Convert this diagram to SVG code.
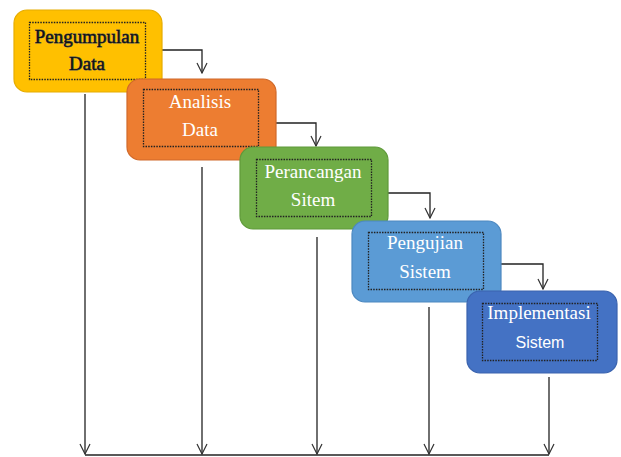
<svg xmlns="http://www.w3.org/2000/svg" width="621" height="457" viewBox="0 0 621 457">
<defs>
<marker id="arrd" markerWidth="12" markerHeight="12" viewBox="0 0 12 12" refX="11" refY="6" orient="auto" markerUnits="userSpaceOnUse">
<path d="M1,1 L11,6 L1,11" fill="none" stroke="#333" stroke-width="1.2"/>
</marker>
</defs>
<style>
.box{stroke-width:1.2}
.inner{fill:none;stroke:#222;stroke-width:1.3;stroke-dasharray:1.5 1.2}
.conn{fill:none;stroke:#222;stroke-width:1.3}
.t{font-family:"Liberation Serif","Times New Roman",serif;font-size:19px;text-anchor:middle;fill:#fff}
.ts{font-family:"Liberation Sans",Arial,sans-serif;font-size:16px;text-anchor:middle;fill:#fff}
.dark{fill:#111;stroke:#555;stroke-width:0.9;paint-order:stroke}
</style>
<rect width="621" height="457" fill="#fff"/>
<g id="connectors">
<path class="conn" d="M162,50 H202 V73" marker-end="url(#arrd)"/>
<path class="conn" d="M276,123 H316 V146" marker-end="url(#arrd)"/>
<path class="conn" d="M388,193 H430 V218" marker-end="url(#arrd)"/>
<path class="conn" d="M501,264 H543 V289" marker-end="url(#arrd)"/>
<path class="conn" d="M85,94 V454" marker-end="url(#arrd)"/>
<path class="conn" d="M202,167 V454" marker-end="url(#arrd)"/>
<path class="conn" d="M317,237 V454" marker-end="url(#arrd)"/>
<path class="conn" d="M429,307 V454" marker-end="url(#arrd)"/>
<path class="conn" d="M549,377 V454" marker-end="url(#arrd)"/>
<path class="conn" d="M85,455 H549"/>
</g>
<g id="n1">
<rect class="box" x="14" y="10" width="148" height="82" rx="13" fill="#FFC000" stroke="#E6AC00"/>
<rect class="inner" x="29.5" y="22.5" width="116" height="57"/>
<text class="t dark" x="87" y="43">Pengumpulan</text>
<text class="t dark" x="87" y="70">Data</text>
</g>
<g id="n2">
<rect class="box" x="127" y="79" width="149" height="81" rx="13" fill="#ED7D31" stroke="#D0692A"/>
<rect class="inner" x="143.5" y="89.5" width="115" height="57"/>
<text class="t" x="200" y="108">Analisis</text>
<text class="t" x="200" y="136">Data</text>
</g>
<g id="n3">
<rect class="box" x="240" y="147" width="148" height="82" rx="13" fill="#70AD47" stroke="#5F9A3A"/>
<rect class="inner" x="256.5" y="159.5" width="115" height="57"/>
<text class="t" x="313" y="178">Perancangan</text>
<text class="t" x="313" y="206">Sitem</text>
</g>
<g id="n4">
<rect class="box" x="352" y="221" width="149" height="81" rx="13" fill="#5B9BD5" stroke="#4C88C0"/>
<rect class="inner" x="368.5" y="232.5" width="115" height="57"/>
<text class="t" x="425" y="249">Pengujian</text>
<text class="t" x="425" y="278">Sistem</text>
</g>
<g id="n5">
<rect class="box" x="467" y="291" width="150" height="82" rx="13" fill="#4472C4" stroke="#3A63AE"/>
<rect class="inner" x="482.5" y="303.5" width="115" height="57"/>
<text class="t" x="539" y="319">Implementasi</text>
<text class="ts" x="540" y="348">Sistem</text>
</g>
</svg>
